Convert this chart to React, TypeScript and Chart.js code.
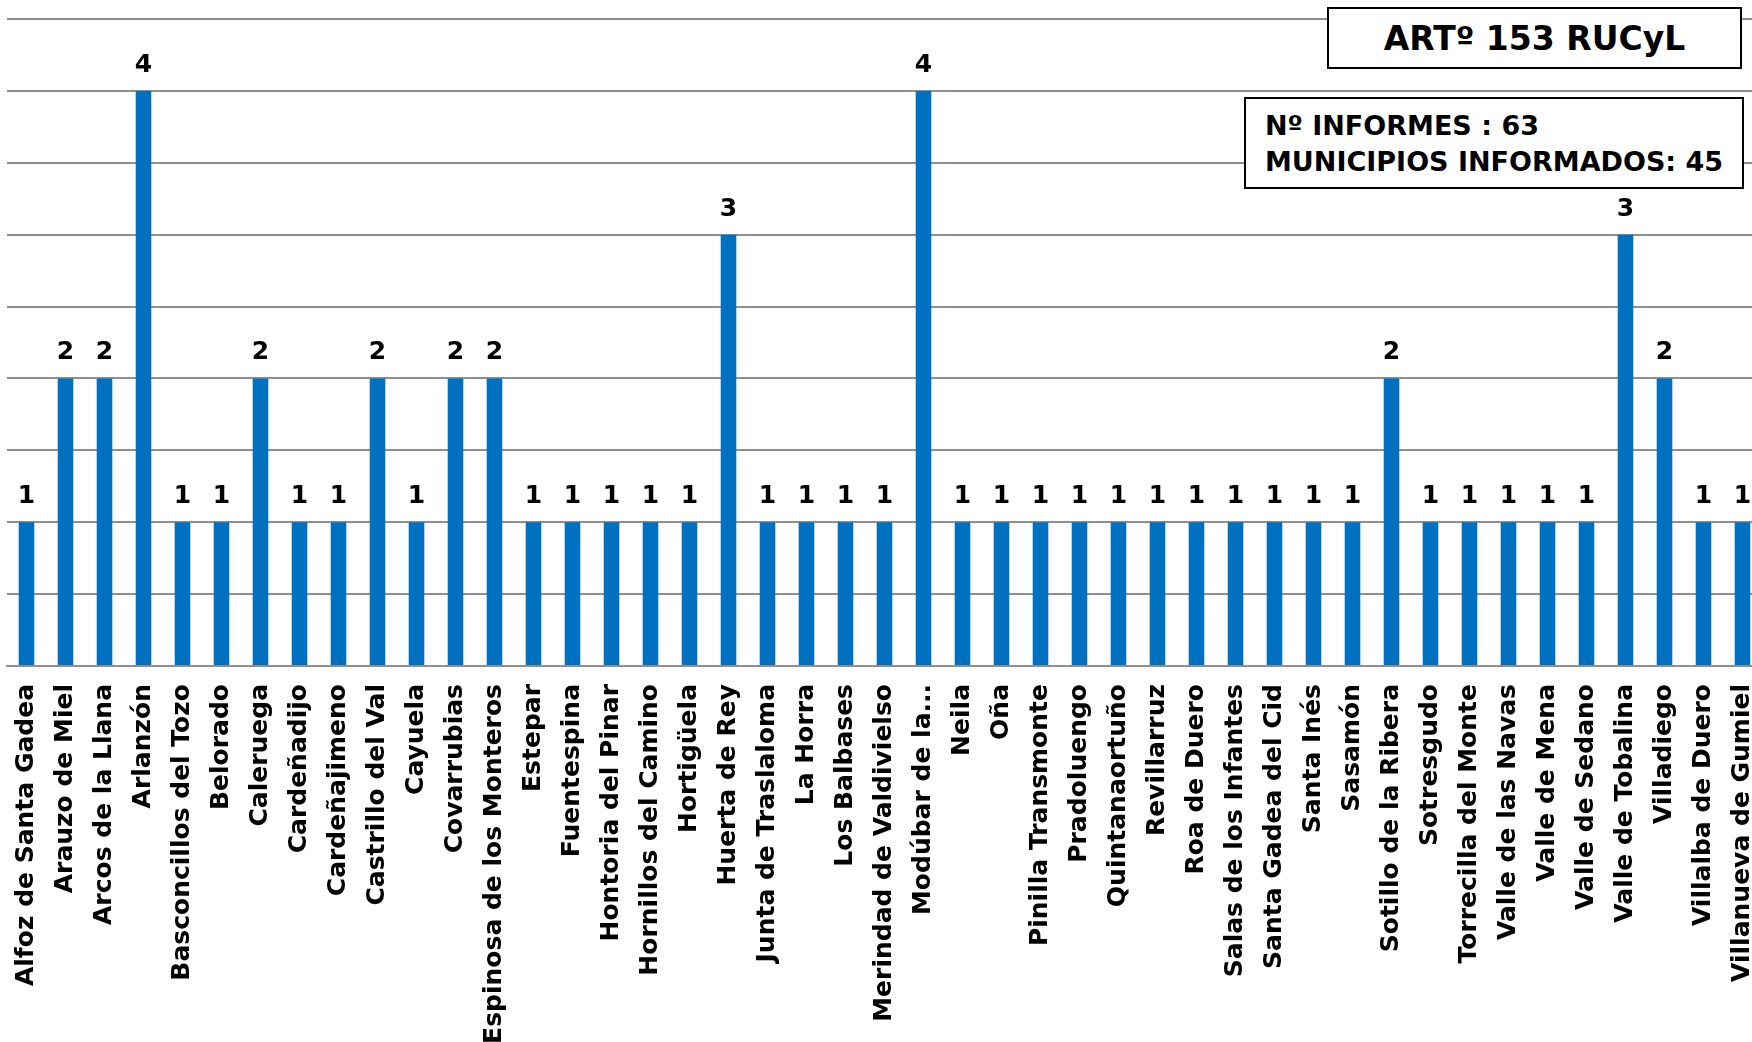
import { useEffect, useRef } from "react";
import { Chart, registerables } from "chart.js";

Chart.register(...registerables);

const municipios: string[] = [
  "Alfoz de Santa Gadea",
  "Arauzo de Miel",
  "Arcos de la Llana",
  "Arlanzón",
  "Basconcillos del Tozo",
  "Belorado",
  "Caleruega",
  "Cardeñadijo",
  "Cardeñajimeno",
  "Castrillo del Val",
  "Cayuela",
  "Covarrubias",
  "Espinosa de los Monteros",
  "Estepar",
  "Fuentespina",
  "Hontoria del Pinar",
  "Hornillos del Camino",
  "Hortigüela",
  "Huerta de Rey",
  "Junta de Traslaloma",
  "La Horra",
  "Los Balbases",
  "Merindad de Valdivielso",
  "Modúbar de la...",
  "Neila",
  "Oña",
  "Pinilla Transmonte",
  "Pradoluengo",
  "Quintanaortuño",
  "Revillarruz",
  "Roa de Duero",
  "Salas de los Infantes",
  "Santa Gadea del Cid",
  "Santa Inés",
  "Sasamón",
  "Sotillo de la Ribera",
  "Sotresgudo",
  "Torrecilla del Monte",
  "Valle de las Navas",
  "Valle de Mena",
  "Valle de Sedano",
  "Valle de Tobalina",
  "Villadiego",
  "Villalba de Duero",
  "Villanueva de Gumiel",
];

const informes: number[] = [
  1, 2, 2, 4, 1, 1, 2, 1, 1, 2, 1, 2, 2, 1, 1, 1, 1, 1, 3, 1, 1, 1, 1, 4, 1,
  1, 1, 1, 1, 1, 1, 1, 1, 1, 1, 2, 1, 1, 1, 1, 1, 3, 2, 1, 1,
];

const yMin = 0;
const yMax = 4.5;
const yStep = 0.5;

const titulo = "ARTº 153 RUCyL";
const resumen: string[] = ["Nº INFORMES : 63", "MUNICIPIOS INFORMADOS: 45"];

const FONT = "'DejaVu Sans', sans-serif";
const BAR_COLOR = "#0070C0";
const GRID_COLOR = "#8f8f8f";

const valueLabels = {
  id: "valueLabels",
  afterDatasetsDraw(chart: any) {
    const ctx = chart.ctx;
    const meta = chart.getDatasetMeta(0);
    const data = chart.data.datasets[0].data as number[];
    ctx.save();
    ctx.fillStyle = "#000";
    ctx.font = `bold 25px ${FONT}`;
    ctx.textAlign = "center";
    ctx.textBaseline = "alphabetic";
    meta.data.forEach((bar: any, i: number) => {
      ctx.fillText(String(data[i]), bar.x, bar.y - 19);
    });
    ctx.restore();
  },
};

export default function App() {
  const canvasRef = useRef<HTMLCanvasElement | null>(null);

  useEffect(() => {
    if (!canvasRef.current) return;
    const chart = new Chart(canvasRef.current, {
      type: "bar",
      data: {
        labels: municipios,
        datasets: [
          {
            data: informes,
            backgroundColor: BAR_COLOR,
            borderWidth: 0,
            categoryPercentage: 1,
            barPercentage: 0.4,
          },
        ],
      },
      options: {
        responsive: false,
        animation: false,
        layout: { padding: { left: 7, top: 19, right: 0, bottom: 0 } },
        plugins: {
          legend: { display: false },
          tooltip: { enabled: false },
          title: { display: false },
        },
        scales: {
          x: {
            type: "category",
            grid: { display: false, drawTicks: false },
            border: { display: true, color: GRID_COLOR, width: 2 },
            ticks: {
              autoSkip: false,
              maxRotation: 90,
              minRotation: 90,
              padding: 18,
              color: "#000",
              font: { family: FONT, weight: "bold", size: 25 },
            },
            afterFit: (scale: any) => {
              scale.height = 1042 - 666;
              scale.paddingLeft = 0;
              scale.paddingRight = 0;
            },
          },
          y: {
            min: yMin,
            max: yMax,
            ticks: { display: false, stepSize: yStep },
            grid: { color: GRID_COLOR, lineWidth: 2, drawTicks: false },
            border: { display: false },
            afterFit: (scale: any) => {
              scale.width = 0;
              scale.paddingTop = 0;
              scale.paddingBottom = 0;
            },
          },
        },
      },
      plugins: [valueLabels],
    });
    return () => chart.destroy();
  }, []);

  return (
    <div
      style={{
        position: "fixed",
        left: 0,
        top: 0,
        width: 1752,
        height: 1042,
        overflow: "hidden",
        background: "#fff",
      }}
    >
      <canvas
        ref={canvasRef}
        width={1762}
        height={1042}
        style={{ position: "absolute", left: 0, top: 0, width: 1762, height: 1042 }}
      />
      <div
        style={{
          position: "absolute",
          left: 1327,
          top: 7,
          width: 415,
          height: 62,
          boxSizing: "border-box",
          border: "2px solid #000",
          background: "#fff",
          display: "flex",
          alignItems: "center",
          justifyContent: "center",
          fontFamily: FONT,
          fontWeight: "bold",
          fontSize: 33,
          color: "#000",
          whiteSpace: "nowrap",
        }}
      >
        {titulo}
      </div>
      <div
        style={{
          position: "absolute",
          left: 1244,
          top: 97,
          width: 500,
          height: 92,
          boxSizing: "border-box",
          border: "2px solid #000",
          background: "#fff",
          paddingTop: 9,
          paddingLeft: 19,
          fontFamily: FONT,
          fontWeight: "bold",
          fontSize: 27,
          lineHeight: "36px",
          color: "#000",
          whiteSpace: "nowrap",
        }}
      >
        {resumen.map((l) => (
          <div key={l}>{l}</div>
        ))}
      </div>
    </div>
  );
}
